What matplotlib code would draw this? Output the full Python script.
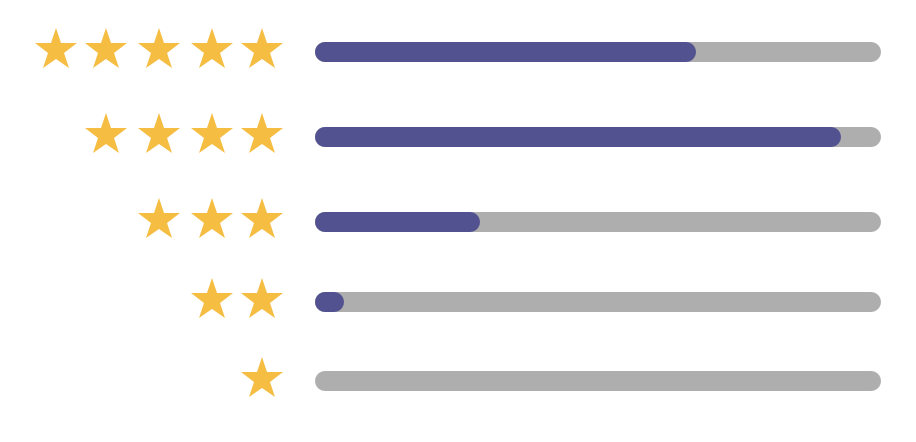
import matplotlib
matplotlib.use("Agg")
import matplotlib.pyplot as plt

# Data
ratings = [5, 4, 3, 2, 1]                 # number of stars per row
shares = [0.673, 0.929, 0.291, 0.051, 0.0]  # filled share of each track

# Colours
star_color = "#F5BD42"
fill_color = "#535291"
track_color = "#AEAEAE"

W, H = 916, 442
fig = plt.figure(figsize=(W / 100, H / 100), dpi=100)
ax = fig.add_axes([0, 0, 1, 1])
ax.set_xlim(0, W)
ax.set_ylim(H, 0)
ax.axis("off")

# Layout (pixel units)
row_y = [52, 137, 222, 302, 381]
star_x = [56, 106, 159, 211.5, 261.5]
track_left, track_right = 315, 881
bar_h = 20
lw_pt = bar_h * 72 / 100
cap = bar_h / 2

for n, share, y in zip(ratings, shares, row_y):
    xs = star_x[len(star_x) - n:]
    ax.plot(xs, [y - 2] * n, linestyle="none", marker="*", markersize=45 * 72 / 100,
            color=star_color, markeredgewidth=0)
    ax.plot([track_left + cap, track_right - cap], [y, y], color=track_color,
            linewidth=lw_pt, solid_capstyle="round")
    if share > 0:
        end = track_left + share * (track_right - track_left) - cap
        ax.plot([track_left + cap, end], [y, y], color=fill_color,
                linewidth=lw_pt, solid_capstyle="round")

fig.savefig("out.png", dpi=100)
